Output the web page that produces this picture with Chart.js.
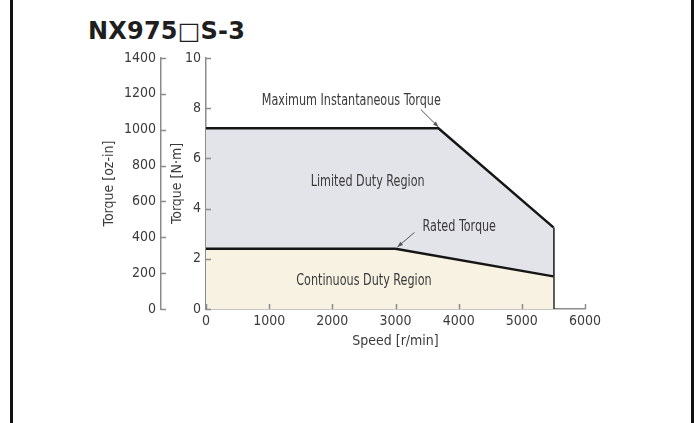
<!DOCTYPE html>
<html>
<head>
<meta charset="utf-8">
<script src="https://cdn.jsdelivr.net/npm/chart.js@4.4.1/dist/chart.umd.min.js"></script>
<style>
  html, body { margin: 0; padding: 0; background: #fff; }
  #wrap { position: relative; width: 700px; height: 423px; overflow: hidden; }
  #frame { position: absolute; left: 10px; top: 0; width: 678px; height: 423px;
           border-left: 3px solid #111; border-right: 3px solid #111; }
  #title { position: absolute; left: 88px; top: 17px; font-family: "DejaVu Sans", sans-serif;
           font-weight: 700; font-size: 24px; color: #1e1e1e; letter-spacing: 0.2px; }
  canvas { position: absolute; left: 0; top: 0; }
</style>
</head>
<body>
<div id="wrap">
  <div id="frame"></div>
  <div id="title">NX975□S-3</div>
  <canvas id="torqueChart" width="700" height="423"></canvas>
</div>
<script>
// speed-torque curves
const maxSpeed = [0, 3680, 5500];
const maxTorque = [7.2, 7.2, 3.25];
const ratedSpeed = [0, 3000, 5500];
const ratedTorque = [2.4, 2.4, 1.3];

const speedTicks = [0, 1000, 2000, 3000, 4000, 5000, 6000];
const nmTicks = [0, 2, 4, 6, 8, 10];
const ozTicks = [0, 200, 400, 600, 800, 1000, 1200, 1400];

const FONT = '"DejaVu Sans Condensed", "DejaVu Sans", sans-serif';
const TEXT = '#3a3a3a';
const AXIS = '#8c8c8c';

// annotations in data units: [text, x, y] and arrows [x1, y1, x2, y2]
const notes = [
    ['Maximum Instantaneous Torque', 2300, 8.3],
    ['Limited Duty Region', 2560, 5.05],
    ['Rated Torque', 4010, 3.25],
    ['Continuous Duty Region', 2500, 1.1]
];
const arrows = [
    [3400, 7.95, 3680, 7.25],
    [3300, 3.05, 3030, 2.47]
];

const toPts = (xs, ys) => xs.map((x, i) => ({ x: x, y: ys[i] }));

const extras = {
    id: 'extras',
    afterDraw(chart) {
        const ctx = chart.ctx;
        const x = chart.scales.x, y = chart.scales.y, y2 = chart.scales.y2;
        ctx.save();
        ctx.strokeStyle = AXIS;
        ctx.lineWidth = 1.5;
        ctx.beginPath();
        x.ticks.forEach(t => {
            const px = Math.round(x.getPixelForValue(t.value)) + 0.5;
            ctx.moveTo(px, x.top); ctx.lineTo(px, x.top - 5);
        });
        y.ticks.forEach(t => {
            const py = Math.round(y.getPixelForValue(t.value)) + 0.5;
            ctx.moveTo(y.right, py); ctx.lineTo(y.right + 5, py);
        });
        y2.ticks.forEach(t => {
            const py = Math.round(y2.getPixelForValue(t.value)) + 0.5;
            ctx.moveTo(y2.right, py); ctx.lineTo(y2.right + 5, py);
        });
        ctx.stroke();

        // narrow lettering like the original: squeeze the text horizontally
        ctx.fillStyle = TEXT;
        ctx.font = '15px ' + FONT;
        ctx.textAlign = 'center';
        ctx.textBaseline = 'middle';
        notes.forEach(n => {
            ctx.save();
            ctx.translate(x.getPixelForValue(n[1]), y.getPixelForValue(n[2]));
            ctx.scale(0.83, 1);
            ctx.fillText(n[0], 0, 0);
            ctx.restore();
        });

        ctx.strokeStyle = '#555';
        ctx.lineWidth = 1;
        arrows.forEach(a => {
            const x1 = x.getPixelForValue(a[0]), y1 = y.getPixelForValue(a[1]);
            const x2 = x.getPixelForValue(a[2]), y2p = y.getPixelForValue(a[3]);
            const ang = Math.atan2(y2p - y1, x2 - x1);
            ctx.beginPath();
            ctx.moveTo(x1, y1); ctx.lineTo(x2, y2p);
            ctx.stroke();
            ctx.beginPath();
            ctx.moveTo(x2, y2p);
            ctx.lineTo(x2 - 6 * Math.cos(ang - 0.35), y2p - 6 * Math.sin(ang - 0.35));
            ctx.lineTo(x2 - 6 * Math.cos(ang + 0.35), y2p - 6 * Math.sin(ang + 0.35));
            ctx.closePath();
            ctx.fillStyle = '#555';
            ctx.fill();
        });
        ctx.restore();
    }
};

const tickFont = { family: FONT, size: 14 };
const titleFont = { family: FONT, size: 14 };

new Chart(document.getElementById('torqueChart'), {
    type: 'line',
    data: {
        datasets: [{
            label: 'Rated Torque',
            data: toPts(ratedSpeed, ratedTorque),
            borderColor: '#151515',
            borderWidth: 2.5,
            backgroundColor: '#f8f2e3',
            fill: 'origin',
            pointRadius: 0,
            tension: 0
        }, {
            label: 'Maximum Instantaneous Torque',
            data: toPts(maxSpeed, maxTorque),
            borderColor: '#151515',
            borderWidth: 2.5,
            backgroundColor: '#e3e4e9',
            fill: 'origin',
            pointRadius: 0,
            tension: 0
        }, {
            label: 'limit',
            data: [{ x: maxSpeed[maxSpeed.length - 1], y: 0 },
                   { x: maxSpeed[maxSpeed.length - 1], y: maxTorque[maxTorque.length - 1] }],
            borderColor: '#151515',
            borderWidth: 2.5,
            fill: false,
            pointRadius: 0
        }]
    },
    options: {
        responsive: false,
        animation: false,
        devicePixelRatio: 1,
        layout: { padding: { left: 98, right: 115, top: 58, bottom: 72 } },
        plugins: { legend: { display: false }, tooltip: { enabled: false } },
        scales: {
            x: {
                type: 'linear', min: 0, max: 6000,
                afterBuildTicks: s => { s.ticks = speedTicks.map(v => ({ value: v })); },
                afterFit: s => { s.height = 42; },
                border: { color: AXIS, width: 1.5 },
                grid: { display: false, drawTicks: false },
                ticks: { color: TEXT, font: tickFont, padding: 4, callback: v => String(v) },
                title: { display: true, text: 'Speed [r/min]', color: TEXT,
                         font: titleFont, padding: { top: 0, bottom: 1 } }
            },
            y: {
                type: 'linear', position: 'left', weight: 0, min: 0, max: 10,
                afterBuildTicks: s => { s.ticks = nmTicks.map(v => ({ value: v })); },
                afterFit: s => { s.width = 45; },
                border: { color: AXIS, width: 1.5 },
                grid: { display: false, drawTicks: false },
                ticks: { color: TEXT, font: tickFont, padding: 5, callback: v => String(v) },
                title: { display: true, text: 'Torque [N·m]', color: TEXT,
                         font: titleFont, padding: { top: 8, bottom: 0 } }
            },
            y2: {
                type: 'linear', position: 'left', weight: 1, min: 0, max: 1400,
                afterBuildTicks: s => { s.ticks = ozTicks.map(v => ({ value: v })); },
                afterFit: s => { s.width = 63; },
                border: { color: AXIS, width: 1.5 },
                grid: { display: false, drawTicks: false },
                ticks: { color: TEXT, font: tickFont, padding: 5, callback: v => String(v) },
                title: { display: true, text: 'Torque [oz-in]', color: TEXT,
                         font: titleFont, padding: { top: 3, bottom: 0 } }
            }
        }
    },
    plugins: [extras]
});
</script>
</body>
</html>
